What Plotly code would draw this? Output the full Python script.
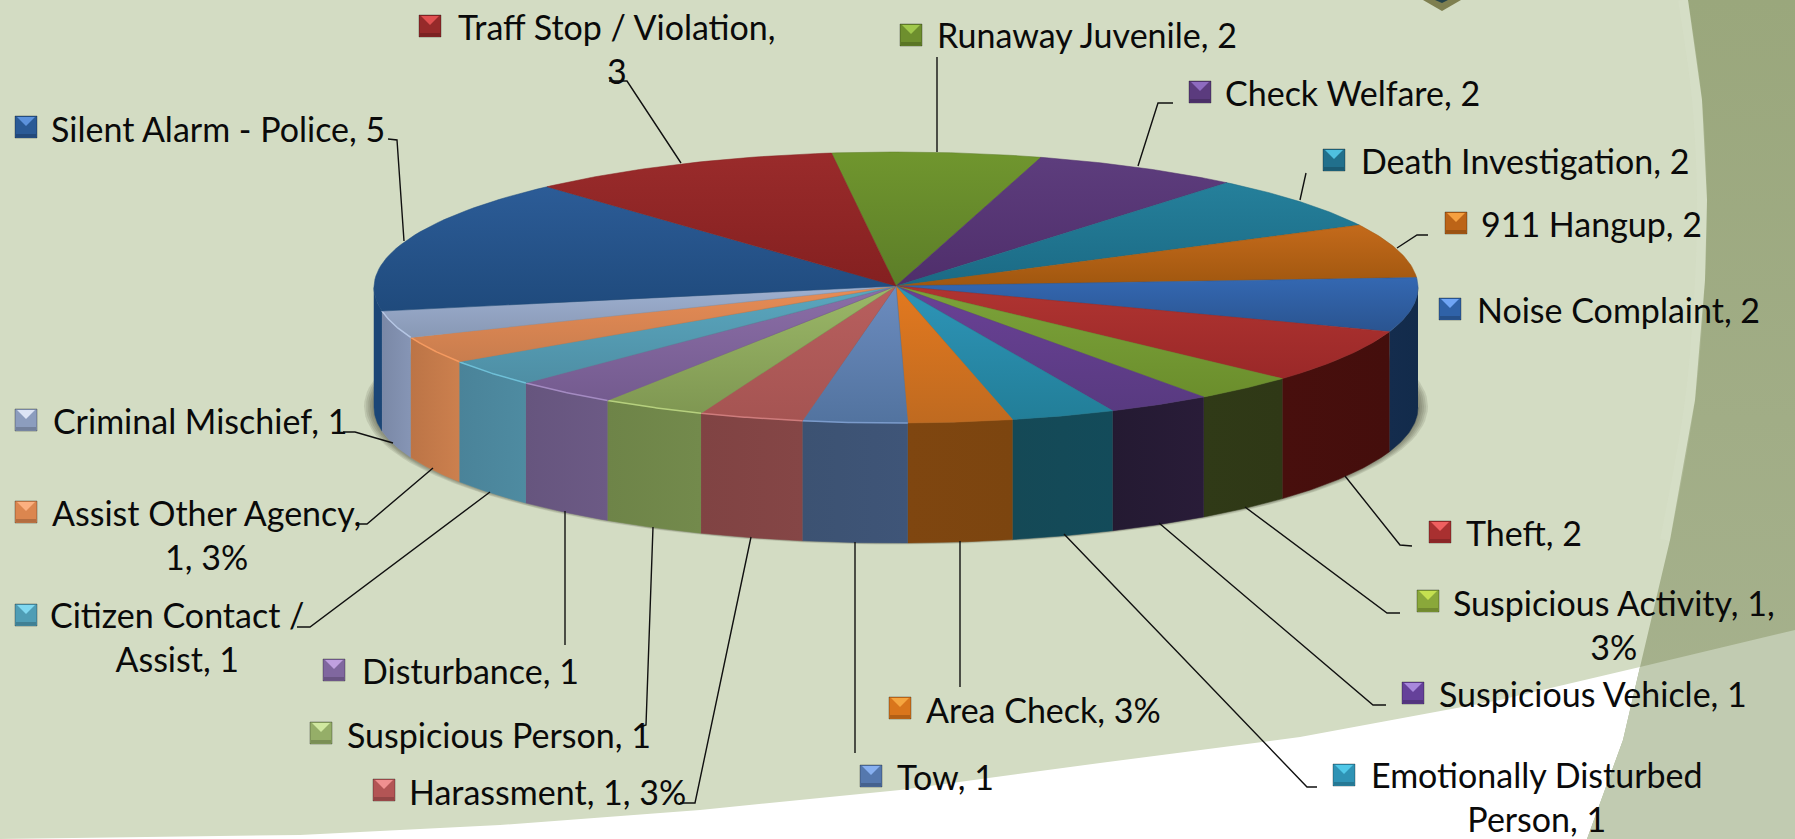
import numpy as np
import plotly.graph_objects as go

# ---------- data ----------
categories = ["Runaway Juvenile", "Check Welfare", "Death Investigation", "911 Hangup",
              "Noise Complaint", "Theft", "Suspicious Activity", "Suspicious Vehicle",
              "Emotionally Disturbed Person", "Area Check", "Tow", "Harassment",
              "Suspicious Person", "Disturbance", "Citizen Contact / Assist",
              "Assist Other Agency", "Criminal Mischief", "Silent Alarm - Police",
              "Traff Stop / Violation"]
values = [2, 2, 2, 2, 2, 2, 1, 1, 1, 1, 1, 1, 1, 1, 1, 1, 1, 5, 3]
label_texts = ["Runaway Juvenile, 2", "Check Welfare, 2", "Death Investigation, 2", "911 Hangup, 2",
               "Noise Complaint, 2", "Theft, 2", "Suspicious Activity, 1,<br>3%", "Suspicious Vehicle, 1",
               "Emotionally Disturbed<br>Person, 1", "Area Check, 3%", "Tow, 1", "Harassment, 1, 3%",
               "Suspicious Person, 1", "Disturbance, 1", "Citizen Contact /<br>Assist, 1",
               "Assist Other Agency,<br>1, 3%", "Criminal Mischief, 1", "Silent Alarm - Police, 5",
               "Traff Stop / Violation,<br>3"]

# ---------- styles ----------
top_hi = ["#70962E", "#5D3D7D", "#25809B", "#C46A1B", "#3468B2", "#B03431", "#7CA33A", "#6A4196", "#2E95B8",
          "#E3791F", "#6C8CBF", "#B85F5E", "#9BB868", "#8B6EA7", "#5AA7BF", "#E88C55", "#9EB0D0", "#2C5C97", "#9A2B2B"]
top_lo = ["#5C7D28", "#4F2E6B", "#1B6A85", "#A0570F", "#2A5490", "#9A2828", "#6B8E2C", "#583A80", "#227E98",
          "#BF6A20", "#52739F", "#A55452", "#7F9752", "#745B8F", "#4E8EA4", "#C87D4E", "#8898B5", "#1F4A7C", "#842020"]
side_a = ["#000000", "#000000", "#000000", "#000000", "#122B4B", "#440E0C", "#2F3816", "#291C38", "#134B5A",
          "#7C450F", "#3F5578", "#854646", "#738A4C", "#6C5A85", "#4E8BA1", "#CC804E", "#8695B5", "#1B4677", "#000000"]
side_b = ["#000000", "#000000", "#000000", "#000000", "#142C4D", "#480F0D", "#303A17", "#241A32", "#154956",
          "#7F4610", "#3C5272", "#804343", "#6E8448", "#66557E", "#4A8399", "#BC7446", "#7A88A6", "#1B4677", "#000000"]
rim = [None] * 10 + ["#7B9BCB", "#CE7C7C", "#B6D07E", "#A48BC2", "#6FC0D8", "#F59A60", "#B5C6E4", None, None]
key_base = ["#6E8F2E", "#5B3B7E", "#21708C", "#BC6417", "#2F62A8", "#A93030", "#8AA83A", "#65419A", "#2F93B5",
            "#D9751C", "#5578AE", "#B35555", "#95AE68", "#80679F", "#4F9DB5", "#DB864F", "#8C9DBE", "#2A5A96", "#962A2A"]
key_tip = ["#A0C84C", "#8E6BC0", "#4FC0E0", "#F5A040", "#6FA5F5", "#F06060", "#C5E050", "#A888DC", "#50C8E8",
           "#F5A540", "#88B0F0", "#F09090", "#D0E8A0", "#C0A0E0", "#80D8F0", "#FBB080", "#DCE4F5", "#5C92DC", "#E05050"]

# label layout in page pixels: key centre x, y; text x; anchor; text y
key_pos = [(911, 35), (1200, 92), (1334, 160), (1456, 223), (1450, 309), (1440, 532), (1428, 601), (1413, 693),
           (1344, 775), (900, 708), (871, 776), (384, 790), (321, 733), (334, 670), (26, 615), (26, 512), (26, 420),
           (26, 127), (430, 26)]
text_pos = [(935, 34), (1223, 92), (1359, 160), (1479, 223), (1475, 309), (1464, 532),
            (1614, 624), (1437, 693), (1537, 796), (924, 709), (895, 776), (407, 791),
            (345, 734), (360, 670), (177, 636), (206, 534), (51, 420), (49, 128), (617, 48)]
text_center = [False] * 6 + [True, False, True] + [False] * 5 + [True, True, False, False, True]

leaders = [[(937, 57), (937, 152)],
           [(1173, 103), (1158, 103), (1138, 166)],
           [(1306, 173), (1300, 200)],
           [(1428, 235), (1417, 235), (1397, 248)],
           None,
           [(1412, 546), (1400, 545), (1345, 476)],
           [(1400, 613), (1387, 613), (1245, 507)],
           [(1386, 705), (1373, 705), (1159, 523)],
           [(1317, 787), (1307, 787), (1064, 534)],
           [(960, 541), (960, 687)],
           [(855, 542), (855, 753)],
           [(751, 537), (695, 803), (680, 803)],
           [(653, 527), (646, 725), (640, 727)],
           [(565, 511), (565, 645)],
           [(490, 492), (310, 627), (297, 627)],
           [(433, 468), (367, 524), (357, 524)],
           [(393, 443), (355, 432), (343, 432)],
           [(404, 241), (397, 140), (388, 139)],
           [(681, 163), (627, 81), (609, 81)]]

# page background curves, pixels
swoosh_edge = [(0, 839), (300, 835), (500, 825), (700, 810), (900, 790), (1100, 763), (1300, 737), (1500, 700),
               (1640, 667), (1795, 630)]
band_edge = [(1688, 0), (1702, 100), (1707, 200), (1705, 280), (1695, 400), (1670, 540), (1640, 667), (1623, 740),
             (1587, 839)]

# pie geometry
CX, CY, RX, RY, DEPTH, START = 896, 287.5, 522, 135.5, 120, -7.1
W, H = 1795, 839
FONT = "Lato"
FS = 34


def path(points, close=True):
    s = "M" + " L".join(f"{x},{y}" for x, y in points)
    return s + (" Z" if close else "")


def ell(deg, dy=0.0):
    a = np.radians(deg)
    return CX + RX * np.sin(a), CY - RY * np.cos(a) + dy


def poly(points, **kw):
    xs = [p[0] for p in points] + [points[0][0]]
    ys = [p[1] for p in points] + [points[0][1]]
    return go.Scatter(x=xs, y=ys, mode="lines", fill="toself", line_width=0, hoverinfo="skip",
                      showlegend=False, **kw)


fig = go.Figure()

# background
fig.add_trace(poly(swoosh_edge + [(1795, 839)], fillcolor="#FFFFFF"))
fig.add_trace(poly(band_edge + [(1795, 839), (1795, 0)],
                   fillgradient=dict(type="vertical", colorscale=[[0, "#A8B390"], [1, "#9AA77C"]])))
fig.add_trace(poly([p for p in swoosh_edge if p[0] >= 1640] + [(1795, 839), (1587, 839), (1623, 740)],
                   fillcolor="#C1CBB1"))
fig.add_trace(go.Scatter(x=[p[0] - 5 for p in band_edge[:6]], y=[p[1] for p in band_edge[:6]], mode="lines",
                         line=dict(width=10, color="rgba(228,234,218,0.15)", shape="spline"),
                         hoverinfo="skip", showlegend=False))
fig.add_trace(poly([(1423, 0), (1442, 11), (1461, 0)], fillcolor="#7E7F50"))
fig.add_trace(poly([(1435, 0), (1442, 3), (1448, 0)], fillcolor="#24424A"))

# shadow: stacked translucent ellipses below the pie
aa = np.radians(np.linspace(0, 360, 181))
for grow in [10, 8, 6, 4, 2]:
    fig.add_trace(go.Scatter(x=CX + (RX + grow) * np.sin(aa), y=CY + DEPTH - 1 - (RY + grow * 0.25) * np.cos(aa),
                             mode="lines", fill="toself", fillcolor="rgba(60,60,50,0.13)", line_width=0,
                             hoverinfo="skip", showlegend=False))

edges = START + np.concatenate([[0], np.cumsum(values)]) * 360.0 / sum(values)

# side walls
for i in range(len(values)):
    a0, a1 = edges[i], edges[i + 1]
    sides = []
    for k in (0, 360, -360):
        l, h = max(a0 + k, 90), min(a1 + k, 270)
        if h > l:
            sides.append((l, h))
    for l, h in sides:
        t = np.linspace(l, h, 40)
        x1, y1 = ell(t)
        x2, y2 = ell(t[::-1], DEPTH)
        fig.add_trace(go.Scatter(x=np.r_[x1, x2], y=np.r_[y1, y2], mode="lines", fill="toself",
                                 fillgradient=dict(type="horizontal", colorscale=[[0, side_b[i]], [1, side_a[i]]]),
                                 line=dict(width=0.5, color=side_a[i]), hoverinfo="skip", showlegend=False))

# top wedges
for i in range(len(values)):
    t = np.linspace(edges[i], edges[i + 1], 40)
    x, y = ell(t)
    fig.add_trace(go.Scatter(x=np.r_[CX, x, CX], y=np.r_[CY - 1.5, y, CY - 1.5], mode="lines", fill="toself",
                             fillgradient=dict(type="vertical", colorscale=[[0, top_lo[i]], [1, top_hi[i]]]),
                             line=dict(width=0.5, color=top_lo[i]), hoverinfo="skip", showlegend=False,
                             name=categories[i]))
    if rim[i]:
        fig.add_trace(go.Scatter(x=x, y=y, mode="lines", line=dict(width=1.5, color=rim[i]),
                                 hoverinfo="skip", showlegend=False))

# leader lines
for pts in leaders:
    if pts:
        fig.add_trace(go.Scatter(x=[p[0] for p in pts], y=[p[1] for p in pts], mode="lines",
                                 line=dict(width=1.4, color="#101010"), hoverinfo="skip", showlegend=False))

# keys and labels
annotations = []
shapes = []
for i, txt in enumerate(label_texts):
    kx, ky = key_pos[i]
    shapes.append(dict(type="rect", x0=kx - 11, x1=kx + 11, y0=ky - 11, y1=ky + 11, fillcolor=key_base[i],
                       line=dict(width=1, color="rgba(0,0,0,0.3)"), layer="above"))
    shapes.append(dict(type="path", path=path([(kx - 9, ky - 10), (kx + 9, ky - 10), (kx, ky - 1)]),
                       fillcolor=key_tip[i], line_width=0, layer="above"))
    shapes.append(dict(type="rect", x0=kx - 10, x1=kx + 10, y0=ky + 7, y1=ky + 10,
                       fillcolor="rgba(0,0,0,0.18)", line_width=0, layer="above"))
    tx, ty = text_pos[i]
    annotations.append(dict(x=tx, y=ty, xref="x", yref="y", text=txt, showarrow=False,
                            xanchor="center" if text_center[i] else "left", yanchor="middle", align="center",
                            font=dict(family=FONT, size=FS, color="#0A0A0A")))

fig.update_layout(
    width=W, height=H, margin=dict(l=0, r=0, t=0, b=0), plot_bgcolor="#D3DCC3", paper_bgcolor="#D3DCC3",
    xaxis=dict(range=[0, W], visible=False, fixedrange=True),
    yaxis=dict(range=[H, 0], visible=False, fixedrange=True),
    showlegend=False, shapes=shapes, annotations=annotations,
)

fig.write_html("out.html", post_script="document.body.style.margin='0';document.body.style.overflow='hidden';",
               config={"displayModeBar": False})
